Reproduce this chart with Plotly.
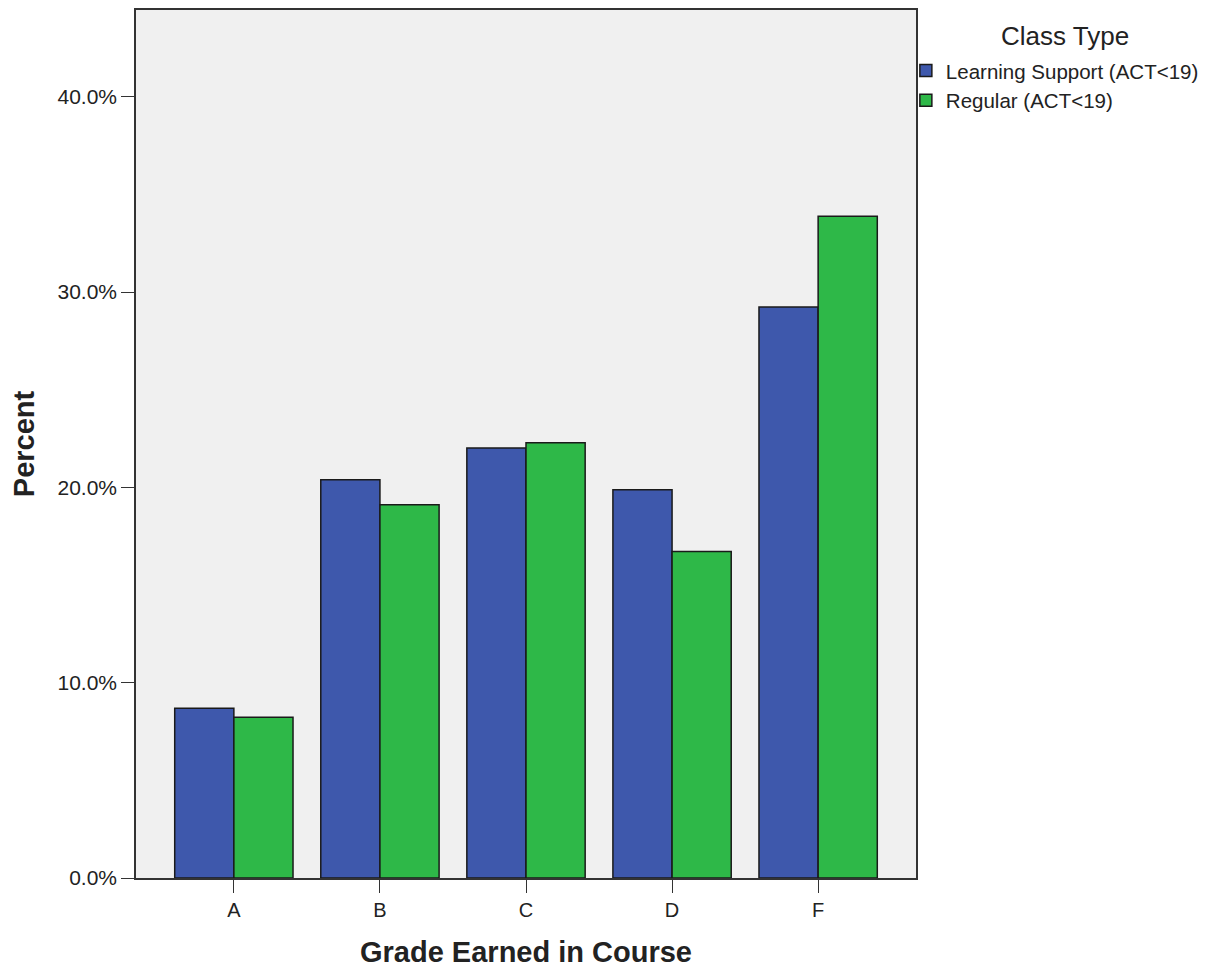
import plotly.graph_objects as go

grades = ["A", "B", "C", "D", "F"]
learning_support = [8.69, 20.39, 22.02, 19.88, 29.23]
regular = [8.23, 19.11, 22.28, 16.71, 33.88]
tick_vals = [0, 10, 20, 30, 40]
tick_text = ["0.0%", "10.0%", "20.0%", "30.0%", "40.0%"]

fig = go.Figure()
fig.add_trace(go.Bar(x=grades, y=learning_support, name="Learning Support (ACT<19)",
                     marker=dict(color="#3E58AC", line=dict(color="#1a1a1a", width=1.5))))
fig.add_trace(go.Bar(x=grades, y=regular, name="Regular (ACT<19)",
                     marker=dict(color="#2EB848", line=dict(color="#1a1a1a", width=1.5))))

fig.update_layout(
    width=1215, height=960,
    margin=dict(l=128, r=307, t=0, b=90),
    paper_bgcolor="white", plot_bgcolor="#F0F0F0",
    barmode="group", bargap=0.19, bargroupgap=0,
    font=dict(family="Liberation Sans, Arial, sans-serif", color="#222", size=20),
    showlegend=True,
    legend=dict(x=0.987, xanchor="left", y=0.953, yanchor="top",
                font=dict(size=20.5), itemwidth=30, tracegroupgap=0,
                bgcolor="rgba(0,0,0,0)"),
    annotations=[dict(text="Class Type", x=1.191, y=0.970, xref="paper", yref="paper",
                      xanchor="center", yanchor="middle", showarrow=False,
                      font=dict(size=26))],
    xaxis=dict(range=[-0.67, 4.67], showline=True, linecolor="#333", linewidth=1.5, mirror=True,
               ticks="outside", ticklen=13, tickcolor="#333",
               title=dict(text="<b>Grade Earned in Course</b>", font=dict(size=29), standoff=22),
               tickfont=dict(size=20)),
    yaxis=dict(range=[0, 44.44], showline=True, linecolor="#333", linewidth=1.5, mirror=True,
               ticks="outside", ticklen=13, tickcolor="#333", showgrid=False, zeroline=False,
               tickvals=tick_vals, ticktext=tick_text, tickfont=dict(size=21),
               title=dict(text="<b>Percent</b>", font=dict(size=29), standoff=18)),
)
fig.write_html("out.html")
